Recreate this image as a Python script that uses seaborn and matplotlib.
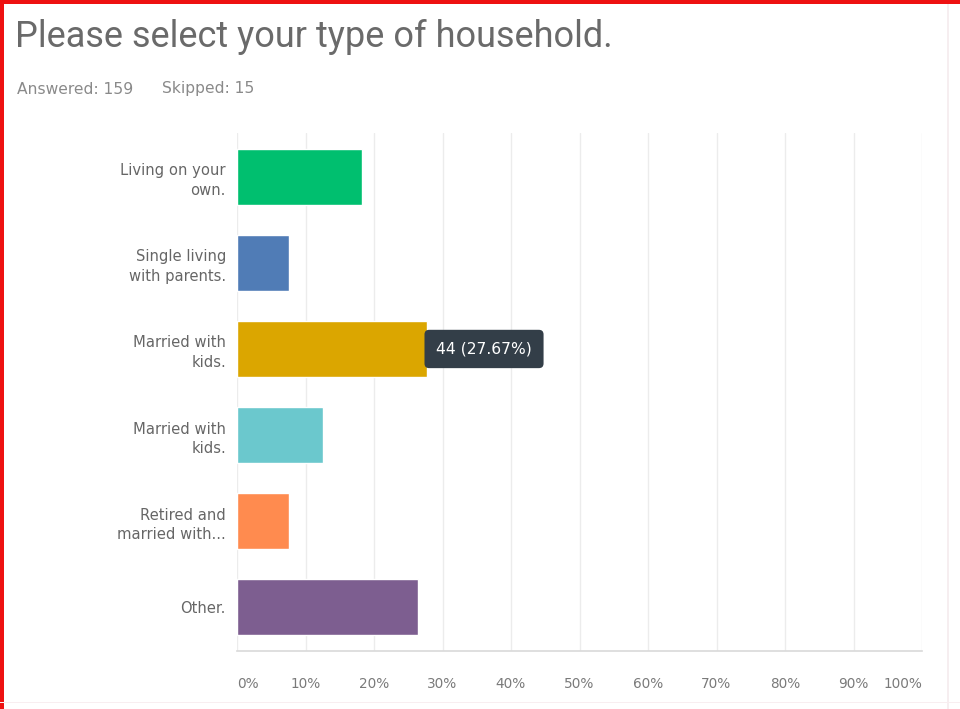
import numpy as np
import pandas as pd
import matplotlib
matplotlib.use("Agg")
import matplotlib.pyplot as plt
from matplotlib.patches import Rectangle
import seaborn as sns

# Survey question and response counts
title = "Please select your type of household."
answered = 159
skipped = 15
categories = [
    "Living on your\nown.",
    "Single living\nwith parents.",
    "Married with\nkids.",
    "Married with\nkids.",
    "Retired and\nmarried with...",
    "Other.",
]
counts = [29, 12, 44, 20, 12, 42]
colors = ["#00bf6f", "#507cb6", "#dba600", "#6bc8cd", "#ff8b4f", "#7d5e90"]
xticks = [0, 10, 20, 30, 40, 50, 60, 70, 80, 90, 100]
xticklabels = [f"{t}%" for t in xticks]
highlight = 2

pct = [c / answered * 100 for c in counts]
df = pd.DataFrame({"pos": [str(i) for i in range(len(categories))], "pct": pct})

sns.set_theme(style="white")
plt.rcParams["font.family"] = ["DejaVu Sans"]

W, H = 960, 709
fig = plt.figure(figsize=(W / 100, H / 100), dpi=100)
fig.patch.set_facecolor("white")

# plot area in pixel coordinates
left, right, top, bottom = 237, 922, 133, 651
ax = fig.add_axes([left / W, 1 - bottom / H, (right - left) / W, (bottom - top) / H])

sns.barplot(data=df, y="pos", x="pct", hue="pos", palette=colors, orient="h",
            width=0.65, legend=False, ax=ax, saturation=1)

ax.set_xlim(0, 100)
ax.set_ylim(5.51, -0.51)
ax.set_xticks(xticks)
ax.set_xticklabels(xticklabels)
ax.set_yticks(range(len(categories)))
ax.set_yticklabels(categories, ha="right", linespacing=1.35)
ax.set_xlabel("")
ax.set_ylabel("")
for t in ax.get_xticklabels():
    t.set_color("#7a7a7a")
    t.set_fontsize(9.8)
for t in ax.get_yticklabels():
    t.set_color("#666666")
    t.set_fontsize(10.6)
xl = ax.get_xticklabels()
xl[0].set_ha("left")
xl[-1].set_ha("right")
ax.tick_params(axis="x", length=0, pad=19)
ax.tick_params(axis="y", length=0, pad=8)

ax.grid(axis="x", color="#ececec", linewidth=1)
ax.set_axisbelow(True)
for s in ["top", "right", "left"]:
    ax.spines[s].set_visible(False)
ax.spines["bottom"].set_color("#d9d9d9")
ax.spines["bottom"].set_linewidth(1.2)

# tooltip on the highlighted bar
ax.text(pct[highlight] + 1.4, highlight, f"{counts[highlight]} ({pct[highlight]:.2f}%)",
        color="white", fontsize=11.2, va="center", ha="left",
        bbox=dict(boxstyle="round,pad=0.75,rounding_size=0.3", fc="#333e48", ec="none"))

# header texts
fig.text(15 / W, 1 - 37 / H, title, fontsize=26, color="#6a6a6a",
         family=["Roboto", "DejaVu Sans"], va="center", ha="left")
fig.text(17 / W, 1 - 89 / H, f"Answered: {answered}", fontsize=11.2, color="#8a8a8a",
         va="center", ha="left")
fig.text(162 / W, 1 - 89 / H, f"Skipped: {skipped}", fontsize=11.2, color="#8a8a8a",
         va="center", ha="left")

# frame
fig.patches.append(Rectangle((0, 1 - 4 / H), 1, 4 / H, transform=fig.transFigure,
                             fc="#ee1111", ec="none"))
fig.patches.append(Rectangle((0, 0), 4 / W, 1, transform=fig.transFigure,
                             fc="#ee1111", ec="none"))
fig.patches.append(Rectangle((947 / W, 0), 1.5 / W, 1 - 4 / H, transform=fig.transFigure,
                             fc="#f6eef0", ec="none"))
fig.patches.append(Rectangle((0, 6 / H), 1, 1.5 / H, transform=fig.transFigure,
                             fc="#f8eef0", ec="none"))

fig.savefig("out.png", dpi=100)
